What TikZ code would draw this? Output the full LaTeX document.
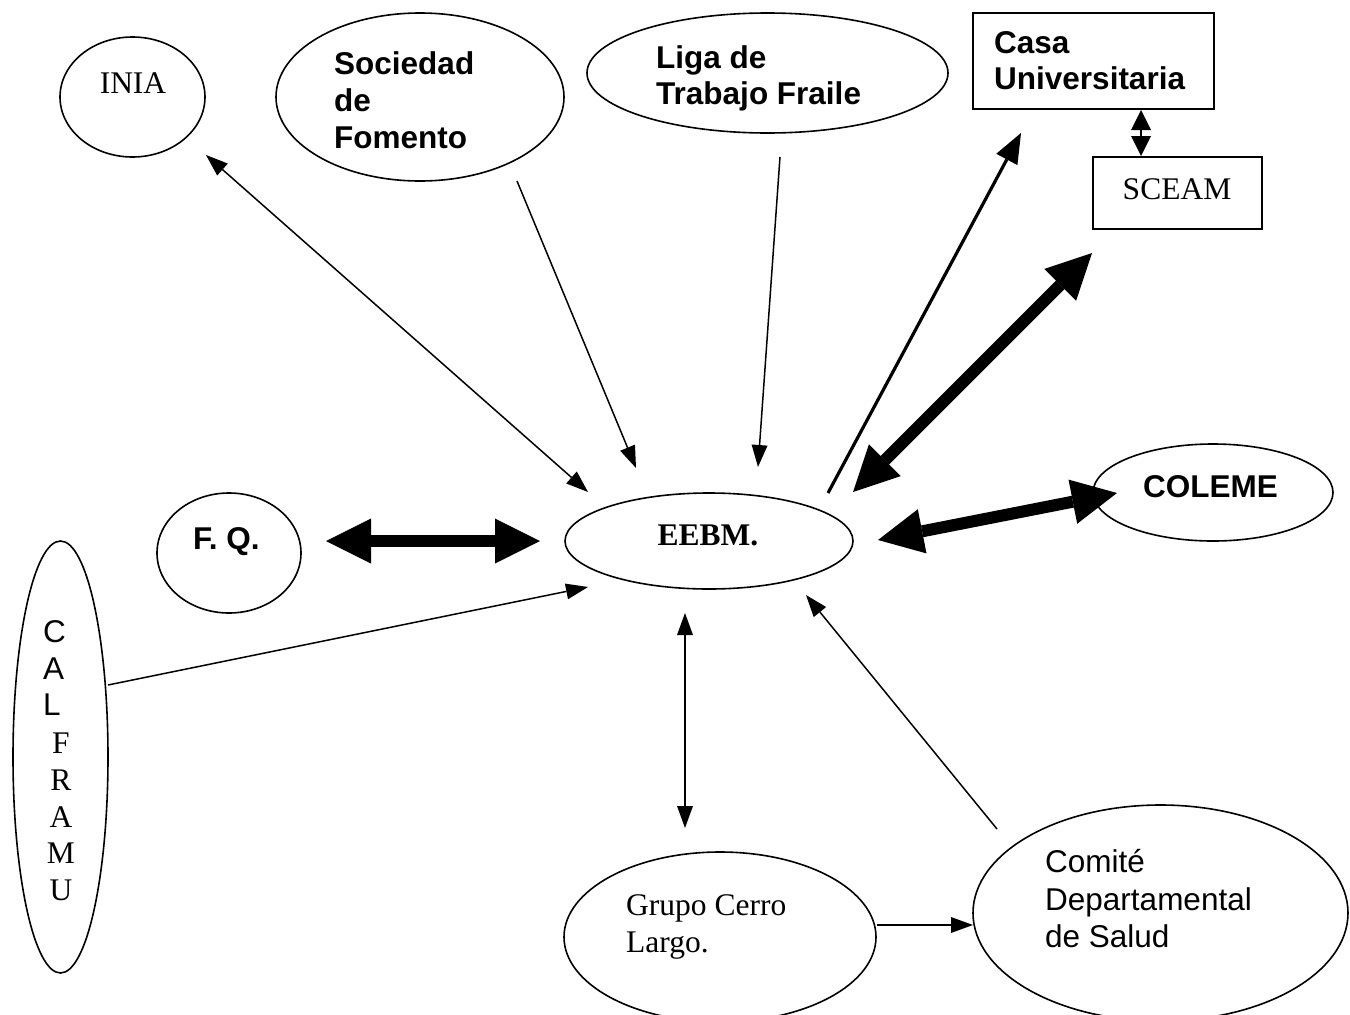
\documentclass[tikz,border=0pt]{standalone}
\usepackage{fontspec}
\setmainfont{Liberation Serif}
\newfontfamily\arialf{Liberation Sans}
\usetikzlibrary{shapes.geometric,arrows.meta}
\begin{document}
\begin{tikzpicture}[x=1pt,y=-1pt,
  ell/.style={draw, ellipse, line width=1.6pt, inner sep=0pt},
  boxnode/.style={draw, rectangle, line width=1.6pt, inner sep=0pt},
  tms/.style={inner sep=0pt, anchor=base west, font=\fontsize{31.5}{37.8}\selectfont},
  tmsb/.style={inner sep=0pt, anchor=base west, font=\fontsize{31.5}{37.8}\selectfont\bfseries},
  ars/.style={inner sep=0pt, anchor=base west, font=\fontsize{31.5}{37.8}\selectfont\arialf},
  arsb/.style={inner sep=0pt, anchor=base west, font=\fontsize{31.5}{37.8}\selectfont\arialf\bfseries},
  thinarr/.style={line width=1.5pt, -{Triangle[length=22pt,width=16pt,line width=0pt]}},
  thinboth/.style={line width=1.5pt, {Triangle[length=22pt,width=16pt,line width=0pt]}-{Triangle[length=22pt,width=16pt,line width=0pt]}},
  smallboth/.style={line width=2pt, {Triangle[length=20pt,width=20pt,line width=0pt]}-{Triangle[length=20pt,width=20pt,line width=0pt]}},
  medarr/.style={line width=3.2pt, -{Triangle[length=30pt,width=24pt,line width=0pt]}},
  thickboth/.style={line width=12pt, {Triangle[length=45pt,width=45pt,line width=0pt]}-{Triangle[length=45pt,width=45pt,line width=0pt]}}
]
\useasboundingbox (0,0) rectangle (1350,1015);
\fill[white] (0,0) rectangle (1350,1015);

% shapes
\node[ell, minimum width=145pt, minimum height=120pt] (inia) at (132.5,97) {};
\node[ell, minimum width=288pt, minimum height=168pt] (soc) at (420,97) {};
\node[ell, minimum width=361pt, minimum height=120pt] (liga) at (767.5,73) {};
\node[boxnode, minimum width=241pt, minimum height=96pt] (casa) at (1093.5,61) {};
\node[boxnode, minimum width=169pt, minimum height=72pt] (sceam) at (1177.5,193) {};
\node[ell, minimum width=288pt, minimum height=96pt] (eebm) at (709,541) {};
\node[ell, minimum width=144pt, minimum height=120pt] (fq) at (229,553) {};
\node[ell, minimum width=240pt, minimum height=97pt] (coleme) at (1213,492.5) {};
\node[ell, minimum width=95pt, minimum height=432pt] (cal) at (60.5,757) {};
\node[ell, minimum width=312pt, minimum height=170pt] (grupo) at (720,937) {};
\node[ell, minimum width=375pt, minimum height=216pt] (comite) at (1160.5,913) {};

% texts
\node[tms, anchor=base] (iniaT) at (133,93) {INIA};
\node[arsb] (socT1) at (334,74) {Sociedad};
\node[arsb] (socT2) at (334,111) {de};
\node[arsb] (socT3) at (334,148) {Fomento};
\node[arsb] (ligaT1) at (656,68) {Liga de};
\node[arsb] (ligaT2) at (656,104) {Trabajo Fraile};
\node[arsb] (casaT1) at (994,53) {Casa};
\node[arsb] (casaT2) at (994,89) {Universitaria};
\node[tms, anchor=base] (sceamT) at (1177,199) {SCEAM};
\node[tmsb, anchor=base] (eebmT) at (708,545) {EEBM.};
\node[arsb] (fqT) at (193,549) {F. Q.};
\node[arsb] (colemeT) at (1143,497) {COLEME};
\node[ars] (calT1) at (43,642) {C};
\node[ars] (calT2) at (43,679) {A};
\node[ars] (calT3) at (43,715) {L};
\node[tms, anchor=base] (calT4) at (61,753) {F};
\node[tms, anchor=base] (calT5) at (61,790) {R};
\node[tms, anchor=base] (calT6) at (61,827) {A};
\node[tms, anchor=base] (calT7) at (61,863) {M};
\node[tms, anchor=base] (calT8) at (61,900) {U};
\node[tms] (grupoT1) at (626,915) {Grupo Cerro};
\node[tms] (grupoT2) at (626,952) {Largo.};
\node[ars] (comiteT1) at (1045,872) {Comité};
\node[ars] (comiteT2) at (1045,910) {Departamental};
\node[ars] (comiteT3) at (1045,947) {de Salud};

% connector end points
\coordinate (eebm-inia) at (588,492);
\coordinate (inia-in) at (206,155);
\coordinate (soc-out) at (517,181);
\coordinate (eebm-soc) at (636,468);
\coordinate (liga-out) at (780,157);
\coordinate (eebm-liga) at (758,467);
\coordinate (eebm-casa) at (828,493);
\coordinate (casa-in) at (1021,133);
\coordinate (eebm-sceam) at (853,492);
\coordinate (sceam-in) at (1092,253);
\coordinate (casa-s) at (1141,110);
\coordinate (sceam-n) at (1141,156);
\coordinate (fq-e) at (326,541);
\coordinate (eebm-fq) at (540,541);
\coordinate (eebm-coleme) at (878,540);
\coordinate (coleme-w) at (1117,493);
\coordinate (cal-e) at (108,685);
\coordinate (eebm-cal) at (588,587);
\coordinate (eebm-grupo) at (685,613);
\coordinate (grupo-n) at (685,828);
\coordinate (grupo-e) at (877,925);
\coordinate (comite-w) at (973,925);
\coordinate (comite-nw) at (997,829);
\coordinate (eebm-comite) at (806,595);

% connectors
\draw[thinboth] (eebm-inia) -- (inia-in);
\draw[thinarr] (soc-out) -- (eebm-soc);
\draw[thinarr] (liga-out) -- (eebm-liga);
\draw[medarr] (eebm-casa) -- (casa-in);
\draw[thickboth] (eebm-sceam) -- (sceam-in);
\draw[smallboth] (casa-s) -- (sceam-n);
\draw[thickboth] (fq-e) -- (eebm-fq);
\draw[thickboth] (eebm-coleme) -- (coleme-w);
\draw[thinarr] (cal-e) -- (eebm-cal);
\draw[thinboth] (eebm-grupo) -- (grupo-n);
\draw[thinarr] (grupo-e) -- (comite-w);
\draw[thinarr] (comite-nw) -- (eebm-comite);
\end{tikzpicture}
\end{document}
